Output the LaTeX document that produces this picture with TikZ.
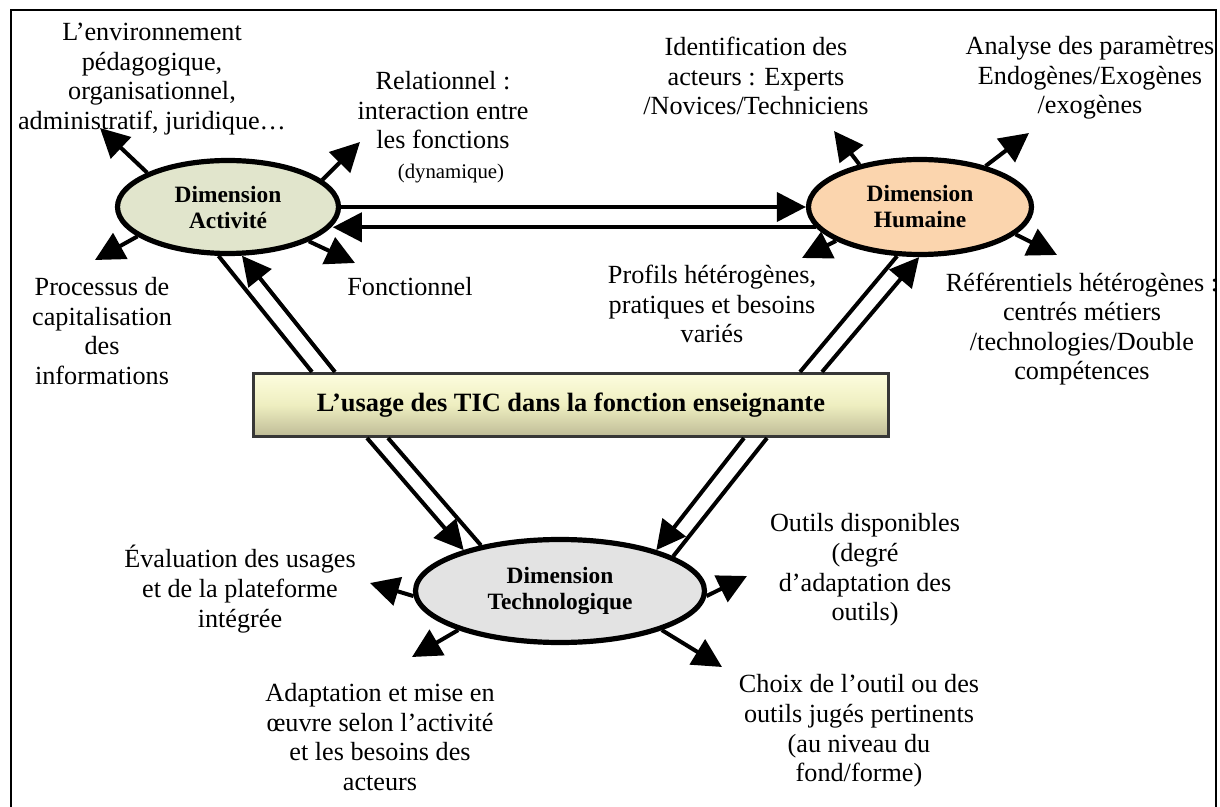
\documentclass[tikz,border=0pt]{standalone}
\usepackage{fontspec}
\setmainfont{Liberation Serif}
\usetikzlibrary{arrows.meta,shapes.geometric,calc}
\definecolor{actfill}{RGB}{225,229,204}
\definecolor{humfill}{RGB}{251,213,174}
\definecolor{tecfill}{RGB}{227,227,227}
\definecolor{boxtop}{RGB}{253,253,222}
\definecolor{boxmid}{RGB}{238,238,192}
\definecolor{boxbot}{RGB}{190,187,150}
\definecolor{boxline}{RGB}{55,55,55}
\begin{document}
\begin{tikzpicture}[x=0.5pt,y=-0.5pt,
  dimnode/.style={ellipse, draw=black, line width=2.6pt, inner sep=0pt, align=center,
    font=\fontsize{11.7}{13}\selectfont\bfseries},
  lbl/.style={inner sep=0pt, align=center, font=\fontsize{13.1}{14.8}\selectfont},
  conn/.style={line width=2pt, -{Triangle[length=14.5pt,width=14.5pt]}},
  dline/.style={line width=2pt},
  outarrow/.style={line width=2pt, -{Triangle[length=14.5pt,width=14.5pt]}}]
\useasboundingbox (0,0) rectangle (1220,807);
% frame
\draw[line width=0.75pt] (11,807) -- (11,10) -- (1216,10) -- (1216,807);
% main nodes
\node[dimnode, fill=actfill, minimum width=110.5pt, minimum height=46.5pt] (act) at (228,207) {Dimension\\Activité};
\node[dimnode, fill=humfill, minimum width=111.5pt, minimum height=47.5pt] (hum) at (920,207) {Dimension\\Humaine};
\node[dimnode, fill=tecfill, minimum width=144.5pt, minimum height=51.5pt] (tec) at (560,591) {Dimension\\Technologique};
\node[draw=boxline, line width=1.3pt, top color=boxtop, bottom color=boxbot, middle color=boxmid,
  minimum width=317.7pt, minimum height=31.7pt, inner sep=0pt,
  font=\fontsize{13.2}{15}\selectfont\bfseries] (usage) at (571,405) {L’usage des TIC dans la fonction enseignante};
% labels
\node[lbl] (env) at (152,79) {L’environnement\\pédagogique,\\organisationnel,\\administratif, juridique…};
\node[lbl] (rel) at (443,127) {Relationnel :\\interaction entre\\les fonctions\\{\fontsize{10.4}{12}\selectfont\hspace*{8pt}(dynamique)}};
\node[lbl] (proc) at (102,331) {Processus de\\capitalisation\\des\\informations};
\node[lbl] (fonc) at (410,287) {Fonctionnel};
\node[lbl] (ident) at (756,76) {Identification des\\acteurs : Experts\\/Novices/Techniciens};
\node[lbl] (anal) at (1090,78) {Analyse des paramètres\\Endogènes/Exogènes\\/exogènes};
\node[lbl] (prof) at (712,304) {Profils hétérogènes,\\pratiques et besoins\\variés};
\node[lbl] (ref) at (1082,329) {Référentiels hétérogènes :\\centrés métiers\\/technologies/Double\\compétences};
\node[lbl] (eval) at (240,589) {Évaluation des usages\\et de la plateforme\\intégrée};
\node[lbl] (outils) at (865,570) {Outils disponibles\\(degré\\d’adaptation des\\outils)};
\node[lbl] (choix) at (859,731) {Choix de l’outil ou des\\outils jugés pertinents\\(au niveau du\\fond/forme)};
\node[lbl] (adapt) at (380,737) {Adaptation et mise en\\œuvre selon l’activité\\et les besoins des\\acteurs};
% arrow tips
\coordinate (tActTL) at (100,128);
\coordinate (tActTR) at (360,142);
\coordinate (tActBL) at (95,260);
\coordinate (tActBR) at (355,263);
\coordinate (tHumTL) at (834,131);
\coordinate (tHumTR) at (1029,133);
\coordinate (tHumBL) at (802,258);
\coordinate (tHumBR) at (1057,255);
\coordinate (tTecL) at (370,583);
\coordinate (tTecR) at (747,576);
\coordinate (tTecBL) at (412,657);
\coordinate (tTecBR) at (722,667);
% outward arrows
\draw[outarrow] (act.157) -- (tActTL);
\draw[outarrow] (act.16) -- (tActTR);
\draw[outarrow] (act.198) -- (tActBL);
\draw[outarrow] (act.-23) -- (tActBR);
\draw[outarrow] (hum.145) -- (tHumTL);
\draw[outarrow] (hum.32) -- (tHumTR);
\draw[outarrow] (hum.202) -- (tHumBL);
\draw[outarrow] (hum.-16) -- (tHumBR);
\draw[outarrow] (tec.182) -- (tTecL);
\draw[outarrow] (tec.-2) -- (tTecR);
\draw[outarrow] (tec.201) -- (tTecBL);
\draw[outarrow] (tec.-21) -- (tTecBR);
% horizontal double arrows
\draw[conn] (act.east) -- (hum.west);
\draw[conn] (hum.191) -- (act.-10.4 |- hum.191);
% box to dimensions
\draw[dline] ($(usage.north west)+(60,0)$) -- (act.259);
\draw[conn] ($(usage.north west)+(83,0)$) -- (act.286);
\draw[dline] ($(usage.north west)+(548,0)$) -- (hum.245);
\draw[conn] ($(usage.north west)+(570,0)$) -- (hum.269);
\draw[conn] ($(usage.south west)+(115,0)$) -- (tec.157);
\draw[dline] ($(usage.south west)+(136,0)$) -- (tec.150);
\draw[conn] ($(usage.south west)+(492,0)$) -- (tec.23);
\draw[dline] ($(usage.south west)+(515,0)$) -- (tec.17);
\end{tikzpicture}
\end{document}
